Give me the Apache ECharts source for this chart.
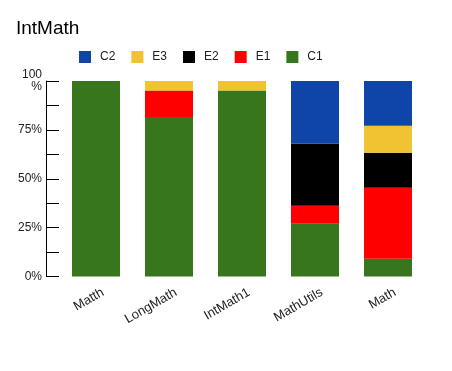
<!DOCTYPE html>
<html>
<head>
<meta charset="utf-8">
<script src="https://cdn.jsdelivr.net/npm/echarts@6/dist/echarts.min.js"></script>
<style>
  html, body { margin: 0; padding: 0; background: #fff; }
  #chart { width: 452px; height: 371px; }
</style>
</head>
<body>
<div id="chart"></div>
<script>
  // data (percent of each class)
  const categories = ['Matth', 'LongMath', 'IntMath1', 'MathUtils', 'Math'];
  const c1 = [100, 81.6, 95.2, 27.0, 9.1];
  const e1 = [0, 13.6, 0, 9.2, 36.3];
  const e2 = [0, 0, 0, 31.7, 17.9];
  const e3 = [0, 4.8, 4.8, 0, 13.8];
  const c2 = [0, 0, 0, 32.1, 22.9];
  const yTicks = [0, 25, 50, 75, 100];

  const font = 'Liberation Sans, Arial, sans-serif';

  function bar(name, data, color) {
    return {
      name: name,
      type: 'bar',
      stack: 'all',
      barWidth: 48,
      data: data,
      itemStyle: { color: color },
      emphasis: { disabled: true }
    };
  }

  const chart = echarts.init(document.getElementById('chart'));
  chart.setOption({
    animation: false,
    title: {
      text: 'IntMath',
      left: 11,
      top: 14,
      textStyle: { fontFamily: font, fontSize: 19, fontWeight: 'normal', color: '#000' }
    },
    legend: {
      left: 74,
      top: 46,
      itemWidth: 12,
      itemHeight: 12,
      itemGap: 16,
      icon: 'rect',
      data: ['C2', 'E3', 'E2', 'E1', 'C1'],
      textStyle: { fontFamily: font, fontSize: 12, color: '#222', padding: [0, 0, 0, 4] }
    },
    grid: { left: 59.5, right: 27.5, top: 81, bottom: 94.5 },
    xAxis: {
      type: 'category',
      data: categories,
      axisLine: { show: false },
      axisTick: { show: false },
      axisLabel: {
        rotate: 30,
        margin: 19,
        padding: [0, -8, 0, 0],
        fontFamily: font,
        fontSize: 13,
        color: '#222'
      }
    },
    yAxis: {
      type: 'value',
      min: 0,
      max: 100,
      interval: 12.5,
      offset: 13.5,
      splitLine: { show: false },
      axisLine: { show: true, lineStyle: { color: '#000', width: 1 } },
      axisTick: { show: true, inside: true, length: 13, lineStyle: { color: '#000' } },
      axisLabel: {
        margin: 4,
        fontFamily: font,
        fontSize: 12,
        color: '#222',
        lineHeight: 12,
        formatter: function (v) {
          if (yTicks.indexOf(v) < 0) return '';
          return v === 100 ? '100\n%' : v + '%';
        }
      }
    },
    series: [
      bar('C1', c1, '#38761d'),
      bar('E1', e1, '#ff0000'),
      bar('E2', e2, '#000000'),
      bar('E3', e3, '#f1c232'),
      bar('C2', c2, '#0e45a6')
    ]
  });
</script>
</body>
</html>
